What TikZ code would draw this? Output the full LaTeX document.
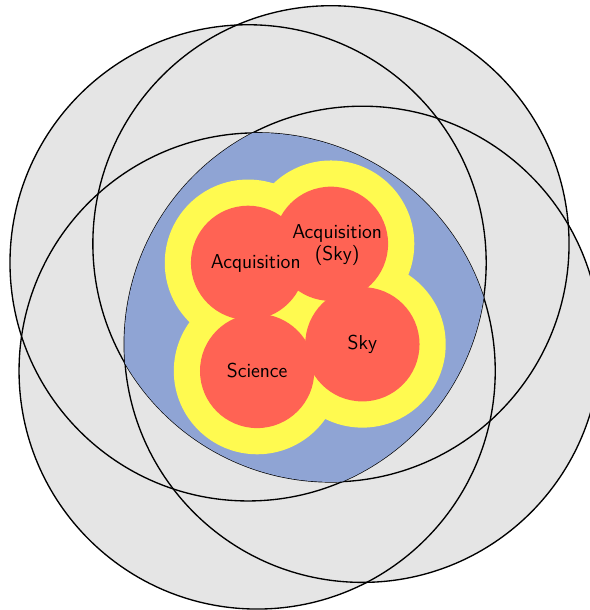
\documentclass[tikz,border=0pt]{standalone}
\usepackage{tikz}
\usepackage{xcolor}

\definecolor{outergrey}{RGB}{229,229,229}
\definecolor{sharedblue}{RGB}{143,164,212}
\definecolor{bandyellow}{RGB}{255,250,80}
\definecolor{corered}{RGB}{255,99,84}

\begin{document}
\begin{tikzpicture}[
  outer/.style={fill=outergrey},
  rim/.style={draw=black, thick},
  band/.style={fill=bandyellow},
  core/.style={fill=corered},
  lbl/.style={font=\sffamily\fontsize{12}{13.5}\selectfont, align=center,
    inner sep=0pt}
]
\useasboundingbox (-5.21,-7.29) rectangle (7.18,5.52);
\clip (-5.21,-7.29) rectangle (7.18,5.52);

\coordinate (acq) at (0,0);
\coordinate (acqsky) at (1.74,0.40);
\coordinate (sky) at (2.40,-1.71);
\coordinate (sci) at (0.19,-2.27);

% large circles
\foreach \c in {acq,acqsky,sci,sky}
  \fill[outer] (\c) circle (5);
\foreach \c in {acq,acqsky,sci,sky}
  \draw[rim] (\c) circle (5);

% common part of the large circles
\begin{scope}
  \clip (acq) circle (5);
  \clip (acqsky) circle (5);
  \clip (sci) circle (5);
  \fill[sharedblue] (sky) circle (5);
\end{scope}

\foreach \c in {acq,acqsky,sci,sky}
  \fill[band] (\c) circle (1.75);
\foreach \c in {acq,acqsky,sci,sky}
  \fill[core] (\c) circle (1.2);

\node[lbl] (acqtext) at ([xshift=0.16cm,yshift=-0.02cm]acq) {Acquisition};
\node[lbl] (acqskytext) at ([xshift=0.13cm,yshift=-0.03cm]acqsky) {Acquisition\\(Sky)};
\node[lbl] (skytext) at (sky) {Sky};
\node[lbl] (scitext) at (sci) {Science};
\end{tikzpicture}
\end{document}
